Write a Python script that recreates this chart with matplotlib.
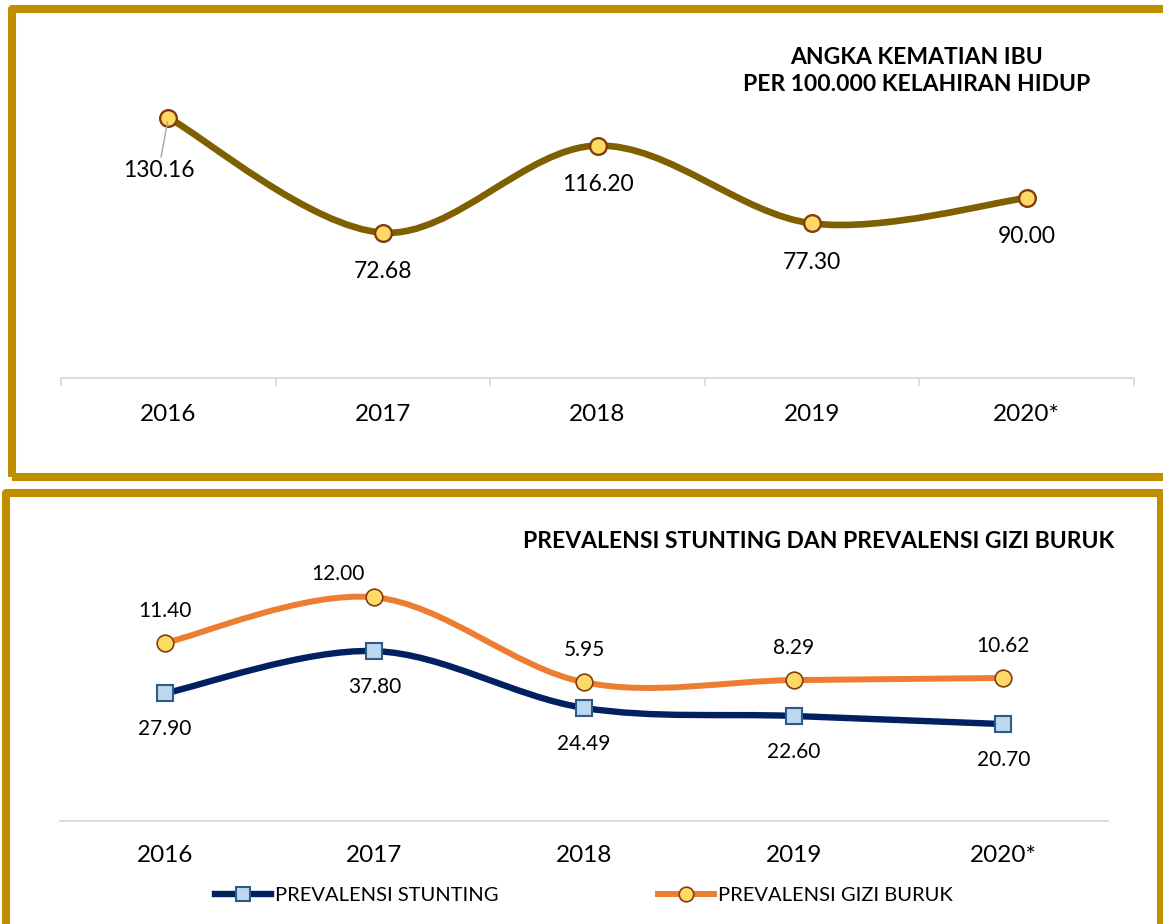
import numpy as np
import matplotlib
matplotlib.use('Agg')
import matplotlib.pyplot as plt
from matplotlib.path import Path
from matplotlib.patches import PathPatch, Rectangle
from matplotlib.lines import Line2D

W, H = 1163, 924

years = ['2016', '2017', '2018', '2019', '2020*']
aki = [130.16, 72.68, 116.20, 77.30, 90.00]
stunting = [27.90, 37.80, 24.49, 22.60, 20.70]
gizi_buruk = [11.40, 12.00, 5.95, 8.29, 10.62]
# the source draws gizi buruk on a secondary axis that does not follow its own
# labels, so the line heights are read off the picture (stunting scale)
gizi_line = [39.7, 50.4, 30.5, 31.0, 31.5]

plt.rcParams['font.family'] = ['Lato', 'DejaVu Sans']

GOLD = '#BF8F00'
GRID = '#D9D9D9'


def smooth_path(xs, ys):
    # Catmull-Rom style bezier, like Excel's smoothed line
    pts = np.column_stack([xs, ys]).astype(float)
    n = len(pts)
    verts = [pts[0]]
    codes = [Path.MOVETO]
    for i in range(n - 1):
        p0 = pts[max(i - 1, 0)]
        p1 = pts[i]
        p2 = pts[i + 1]
        p3 = pts[min(i + 2, n - 1)]
        verts += [p1 + (p2 - p0) / 6, p2 - (p3 - p1) / 6, p2]
        codes += [Path.CURVE4] * 3
    return Path(verts, codes)


def px_axes(fig, x0, y0, x1, y1):
    return fig.add_axes([x0 / W, 1 - y1 / H, (x1 - x0) / W, (y1 - y0) / H])


def frame(fig, x0, y0, x1, y1):
    r = Rectangle((x0 / W, 1 - y1 / H), (x1 - x0) / W, (y1 - y0) / H,
                  transform=fig.transFigure, fill=False, edgecolor=GOLD,
                  linewidth=5.8, joinstyle='round', clip_on=False)
    fig.add_artist(r)


def style_axis(ax):
    for s in ['top', 'left', 'right']:
        ax.spines[s].set_visible(False)
    ax.spines['bottom'].set_color(GRID)
    ax.spines['bottom'].set_linewidth(1.3)
    ax.set_yticks([])
    ax.set_xlim(-0.5, 4.5)
    ax.set_xticks(range(len(years)))
    ax.set_xticklabels(years, fontsize=17.5)


fig = plt.figure(figsize=(W / 100, H / 100), dpi=100)

frame(fig, 12, 9, 1185, 477)
frame(fig, 5.5, 493, 1160.5, 945)

# ---------- top: angka kematian ibu ----------
x = np.arange(len(years))
ax1 = px_axes(fig, 61, 28, 1134, 378)
style_axis(ax1)
ax1.set_ylim(0, 175)
ax1.tick_params(axis='x', which='major', length=0, pad=19)
ax1.set_xticks(np.arange(-0.5, 5, 1), minor=True)
ax1.tick_params(axis='x', which='minor', length=6, width=1.3, color=GRID)

ax1.add_patch(PathPatch(smooth_path(x, aki), fill=False, edgecolor='#7F6000',
                        linewidth=4.8, capstyle='round'))
ax1.plot(x, aki, linestyle='none', marker='o', markersize=12,
         markerfacecolor='#FFD966', markeredgecolor='#843C0C',
         markeredgewidth=1.7, zorder=3)

for i, v in enumerate(aki):
    if i == 0:
        ax1.annotate(f'{v:.2f}', (i, v), xytext=(-7, -38), textcoords='offset points',
                     ha='center', va='center', fontsize=16.5,
                     arrowprops=dict(arrowstyle='-', color='#A6A6A6', lw=1,
                                     shrinkA=0, shrinkB=3))
    else:
        ax1.annotate(f'{v:.2f}', (i, v), xytext=(0, -28), textcoords='offset points',
                     ha='center', va='center', fontsize=16.5)

fig.text(917 / W, 1 - 71 / H, 'ANGKA KEMATIAN IBU\nPER 100.000 KELAHIRAN HIDUP',
         ha='center', va='center', fontsize=16.5, fontweight='bold',
         linespacing=1.4)

# ---------- bottom: stunting & gizi buruk ----------
ax2 = px_axes(fig, 60, 520, 1108, 821)
style_axis(ax2)
ax2.set_ylim(-2, 68.5)
ax2.tick_params(axis='x', length=0, pad=17)

ax2.add_patch(PathPatch(smooth_path(x, gizi_line), fill=False, edgecolor='#ED7D31',
                        linewidth=4.3, capstyle='round'))
ax2.add_patch(PathPatch(smooth_path(x, stunting), fill=False, edgecolor='#002060',
                        linewidth=4.6, capstyle='round'))
ax2.plot(x, gizi_line, linestyle='none', marker='o', markersize=12,
         markerfacecolor='#FFD966', markeredgecolor='#843C0C',
         markeredgewidth=1.2, zorder=3)
ax2.plot(x, stunting, linestyle='none', marker='s', markersize=11.5,
         markerfacecolor='#BDD7EE', markeredgecolor='#2E5A87',
         markeredgewidth=1.5, zorder=3)

for i, (v, h) in enumerate(zip(gizi_buruk, gizi_line)):
    off = (-26, 17) if i == 1 else (0, 23)
    ax2.annotate(f'{v:.2f}', (i, h), xytext=off, textcoords='offset points',
                 ha='center', va='center', fontsize=15)
for i, v in enumerate(stunting):
    ax2.annotate(f'{v:.2f}', (i, v), xytext=(0, -26), textcoords='offset points',
                 ha='center', va='center', fontsize=15)

fig.text(819 / W, 1 - 542 / H, 'PREVALENSI STUNTING DAN PREVALENSI GIZI BURUK',
         ha='center', va='center', fontsize=16.5, fontweight='bold')

handles = [
    Line2D([], [], color='#002060', linewidth=4.6, marker='s', markersize=10.5,
           markerfacecolor='#BDD7EE', markeredgecolor='#2E5A87', markeredgewidth=1.5),
    Line2D([], [], color='#ED7D31', linewidth=4.3, marker='o', markersize=10.5,
           markerfacecolor='#FFD966', markeredgecolor='#843C0C', markeredgewidth=1.2),
]
fig.legend(handles, ['PREVALENSI STUNTING', 'PREVALENSI GIZI BURUK'],
           loc='center', bbox_to_anchor=(584 / W, 1 - 895 / H), ncol=2,
           frameon=False, fontsize=14.5, handlelength=2.8, handletextpad=0.2,
           columnspacing=7.9, numpoints=1)

fig.savefig('out.png', dpi=100)
